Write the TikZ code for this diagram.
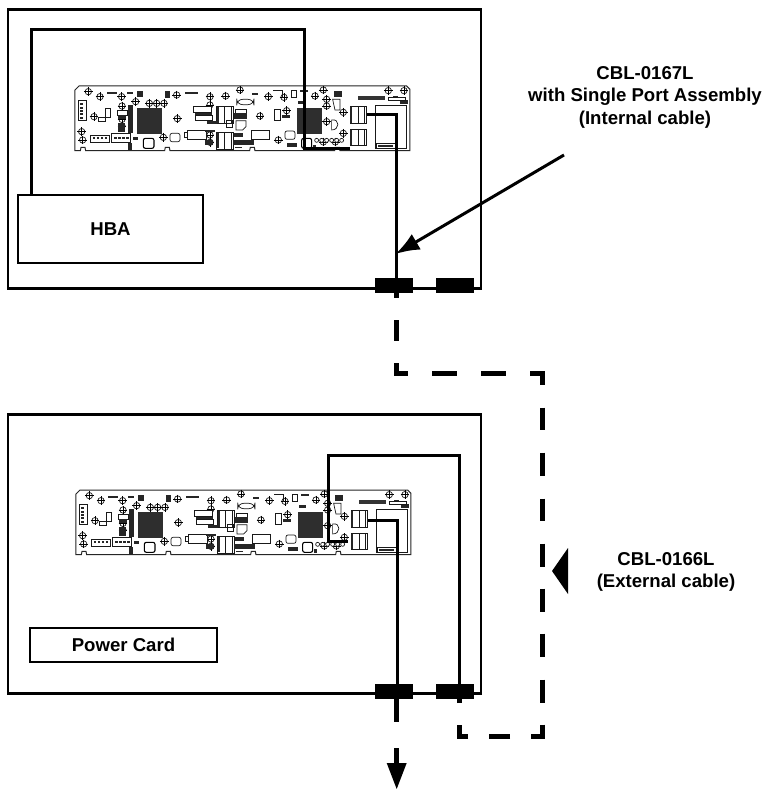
\documentclass[tikz,border=0pt]{standalone}
\usepackage{fontspec}
\usetikzlibrary{arrows.meta}
\setmainfont{Liberation Sans}
\tikzset{
  frame/.style={draw=black,line width=2.2pt,fill=white,inner sep=0pt,outer sep=0pt,anchor=north west},
  lbox/.style={draw=black,line width=2.2pt,fill=white,inner sep=0pt,outer sep=0pt,anchor=north west,font=\fontsize{18.6}{22}\selectfont\bfseries},
  plug/.style={fill=black,inner sep=0pt,outer sep=0pt,anchor=north west,minimum width=38pt,minimum height=15pt},
  cable/.style={draw=black,line width=3pt,miter limit=10},
  extcable/.style={draw=black,line width=5pt},
  tiptri/.style={fill=black,draw=none},
  lab/.style={font=\fontsize{18.6}{22.5}\selectfont\bfseries,align=center,inner sep=0pt},
  pcb/.style={draw=black!90,line width=.7pt},
  pcbk/.style={fill=black!85,draw=none},
}
\newcommand{\screwat}[2]{%
  \draw[pcb,fill=white] (#1,#2) circle[radius=3.2pt];
  \draw[black,line width=.7pt] (#1-13,#2) -- (#1+13,#2) (#1,#2-13) -- (#1,#2+13);}
\newcommand{\pcbboard}[2]{%
\begin{scope}[shift={(#1,#2)},x=.3333pt,y=-.3333pt]
  % outline
  \draw[draw=black!85,line width=1pt,fill=white] (57,18) -- (1040,18) -- (1050,28) -- (1050,212)
    -- (840,212) -- (838,202) -- (826,202) -- (824,212) -- (585,212) -- (583,202) -- (571,202) -- (569,212)
    -- (330,212) -- (328,202) -- (316,202) -- (314,212) -- (77,212) -- (75,202) -- (63,202) -- (61,212)
    -- (45,212) -- (45,30) -- cycle;
  % big chips
  \foreach \cx/\cy in {232/85,712/85}{
    \fill[black!82] (\cx,\cy) rectangle (\cx+74,\cy+78);
  }
  % screws
  \foreach \sx/\sy in {85/35,120/50,185/50,227/65,268/70,290/70,312/70,350/45,450/50,497/48,450/75,540/30,
     625/50,672/52,790/30,765/48,800/58,800/78,850/97,985/32,1032/32,102/110,186/78,186/118,186/138,
     352/116,600/108,680/92,800/125,850/160,790/186,826/186,65/155,68/180,310/172,450/165,450/187,655/180}
    {\screwat{\sx}{\sy}}
  % double connectors
  \foreach \cx/\cy in {870/80,870/147,470/80,470/157}{
    \draw[pcb,fill=white] (\cx,\cy) rectangle (\cx+50,\cy+50);
    \draw[pcb] (\cx+24,\cy) -- (\cx+24,\cy+50) (\cx+44,\cy) -- (\cx+44,\cy+50);
    \fill[pcbk] (\cx,\cy+2) rectangle (\cx+7,\cy+48);
  }
  % right-hand area
  \draw[pcb] (945,75) rectangle (1040,205);
  \draw[pcb,fill=white] (950,190) rectangle (1005,205);
  \fill[pcbk] (955,195) rectangle (1000,202);
  \fill[black!80] (895,47) rectangle (975,60);
  \fill[pcbk] (1020,60) rectangle (1045,72);
  \fill[pcbk] (1000,47) rectangle (1015,53);
  \draw[pcb] (985,52) rectangle (1035,62);
  % left connectors
  \draw[pcb,fill=white] (55,62) rectangle (80,122);
  \foreach \k in {70,80,90,100,110} \fill[pcbk] (60,\k) rectangle (70,\k+6);
  \draw[pcb,fill=white] (90,166) rectangle (148,186);
  \foreach \k in {98,110,122,134} \fill[pcbk] (\k,170) rectangle (\k+7,178);
  \draw[pcb,fill=white] (155,160) rectangle (212,186);
  \foreach \k in {163,175,187,199} \fill[pcbk] (\k,170) rectangle (\k+7,178);
  \fill[pcbk] (205,75) rectangle (218,160);
  \draw[pcb,fill=white] (172,92) rectangle (202,105);
  \fill[pcbk] (175,105) rectangle (198,116);
  \draw[pcb] (115,112) -- (150,112) -- (150,85) -- (135,85) -- (135,125) -- (115,125) -- cycle;
  \fill[pcbk] (175,130) rectangle (195,155);
  \fill[pcbk] (205,188) rectangle (215,210);
  \fill[pcbk] (220,170) rectangle (235,180);
  % bottom-left IC
  \draw[draw=black,line width=1.1pt,rounded corners=2pt,fill=white] (250,175) rectangle (282,205);
  \draw[pcb,rounded corners=2pt] (330,160) rectangle (360,185);
  \draw[pcb,fill=white] (382,152) rectangle (440,178);
  \draw[pcb] (575,150) rectangle (628,178);
  \draw[pcb,rounded corners=2pt] (675,153) rectangle (705,178);
  \draw[draw=black,line width=1.1pt,rounded corners=2pt] (725,175) rectangle (755,205);
  \draw[pcb,fill=white] (372,158) rectangle (382,172);
  % centre parts
  \draw[pcb,fill=white] (400,80) rectangle (455,98);
  \fill[pcbk] (405,98) rectangle (455,106);
  \draw[pcb,fill=white] (405,106) rectangle (458,120);
  \fill[pcbk] (440,122) rectangle (470,132);
  \fill[pcbk] (435,150) rectangle (465,156);
  \fill[pcbk] (436,180) rectangle (460,196);
  \draw[pcb] (525,88) rectangle (560,100);
  \fill[pcbk] (522,100) rectangle (562,118);
  \draw[pcb] (528,122) -- (558,122) -- (558,140) -- (548,150) -- (528,150) -- cycle;
  \draw[pcb] (498,122) rectangle (516,142);
  \fill[pcbk] (522,160) rectangle (550,170);
  \fill[pcbk] (520,180) rectangle (582,196);
  \fill[pcbk] (526,200) rectangle (545,204);
  \draw[pcb,rounded corners=6pt] (530,58) rectangle (582,74);
  % top small parts
  \fill[pcbk] (140,35) rectangle (170,41);
  \fill[pcbk] (200,35) rectangle (218,41);
  \fill[pcbk] (230,32) rectangle (250,50);
  \fill[pcbk] (315,32) rectangle (330,55);
  \fill[pcbk] (375,35) rectangle (415,43);
  \fill[pcbk] (575,38) rectangle (595,44);
  \draw[pcb] (640,32) -- (668,32) -- (668,55);
  \draw[pcb] (693,32) rectangle (708,52);
  \fill[pcbk] (720,30) rectangle (745,37);
  \fill[pcbk] (715,62) rectangle (735,73);
  \fill[pcbk] (822,32) rectangle (845,50);
  \draw[pcb] (818,58) -- (840,58) -- (840,90) -- (825,90) -- cycle;
  \draw[pcb] (642,88) rectangle (660,122);
  \fill[pcbk] (665,105) rectangle (690,113);
  \draw[pcb] (815,120) .. controls (840,115) and (840,150) .. (815,150) -- cycle;
  \fill[pcbk] (680,190) rectangle (710,202);
  \fill[pcbk] (760,195) rectangle (768,208);
  \foreach \k in {770,785,800,815,830,845} \draw[pcb,fill=white] (\k,181) circle[radius=2pt];
\end{scope}}
\begin{document}
\begin{tikzpicture}[x=1pt,y=-1pt]
  \useasboundingbox (0,0) rectangle (765,789);
  \node[frame,minimum width=473pt,minimum height=279pt] (topframe) at (8,9.5) {};
  \node[frame,minimum width=473pt,minimum height=279pt] (botframe) at (8,414.5) {};
  \node[lbox,minimum width=185pt,minimum height=68pt] (hba) at (18,195) {HBA};
  \node[lbox,minimum width=187pt,minimum height=34pt] (power) at (30,628) {Power Card};
  \pcbboard{60}{80}
  \pcbboard{61}{484}
  % named way points
  \coordinate (tA) at (31,30);
  \coordinate (tB) at (304.5,30);
  \coordinate (tC) at (304.5,148);
  \coordinate (tPort) at (350,148);
  \coordinate (tOut) at (367,115);
  \coordinate (tD) at (396.5,115);
  \coordinate (tEnd) at (396.5,285);
  \coordinate (bTop) at (459,455);
  \coordinate (bL) at (328,455);
  \coordinate (bC) at (328,541);
  \coordinate (bPort) at (348,541);
  \coordinate (bOut) at (368,520);
  \coordinate (bD) at (397,520);
  \coordinate (bEnd) at (397,690);
  \coordinate (bS) at (459,690);
  \coordinate (xA) at (396.5,293);
  \coordinate (xB) at (396.5,373);
  \coordinate (xC) at (542.5,373);
  \coordinate (xD) at (542.5,736);
  \coordinate (xE) at (459,736);
  \coordinate (xF) at (459,699);
  \coordinate (dA) at (396.7,699);
  \coordinate (dB) at (396.7,764);
  \coordinate (aStart) at (564,155);
  \coordinate (aTip) at (395.5,254);
  % cables
  \draw[cable] (hba.north -| tA) -- (tA) -- (tB) -- (tC) -- (tPort);
  \draw[cable] (tOut) -- (tD) -- (tEnd);
  \draw[cable] (bS) -- (bTop) -- (bL) -- (bC) -- (bPort);
  \draw[cable] (bOut) -- (bD) -- (bEnd);
  % plugs
  \node[plug] (p1) at (375,278) {};
  \node[plug] (p2) at (436,278) {};
  \node[plug] (p3) at (375,684) {};
  \node[plug] (p4) at (436,684) {};
  % external cable
  \draw[extcable,dash pattern=on 5pt off 22pt on 21pt off 22pt on 21.5pt off 24pt on 25pt off 24pt on 25pt off 24pt on 24pt off 23pt on 22pt off 23pt on 23pt off 23pt on 22pt off 23pt on 23pt off 22pt on 23pt off 22pt on 23pt off 23pt on 23pt off 22pt on 23pt off 21pt on 21pt off 21pt on 20pt off 22pt on 6pt off 50pt]
    (xA) -- (xB) -- (xC) -- (xD) -- (xE) -- (xF);
  \draw[extcable,dash pattern=on 23pt off 26pt on 40pt] (dA) -- (dB);
  \fill[tiptri] (386.7,763) -- (406.7,763) -- (396.7,789) -- cycle;
  % pointers
  \fill[tiptri] (552,571) -- (568,548) -- (568,594) -- cycle;
  \draw[line width=3pt,-{Latex[length=24pt,width=18pt]}] (aStart) -- (aTip);
  % labels
  \node[lab] (lab1) at (645,97) {CBL-0167L\\with Single Port Assembly\\(Internal cable)};
  \node[lab] (lab2) at (666,572) {CBL-0166L\\(External cable)};
\end{tikzpicture}
\end{document}
